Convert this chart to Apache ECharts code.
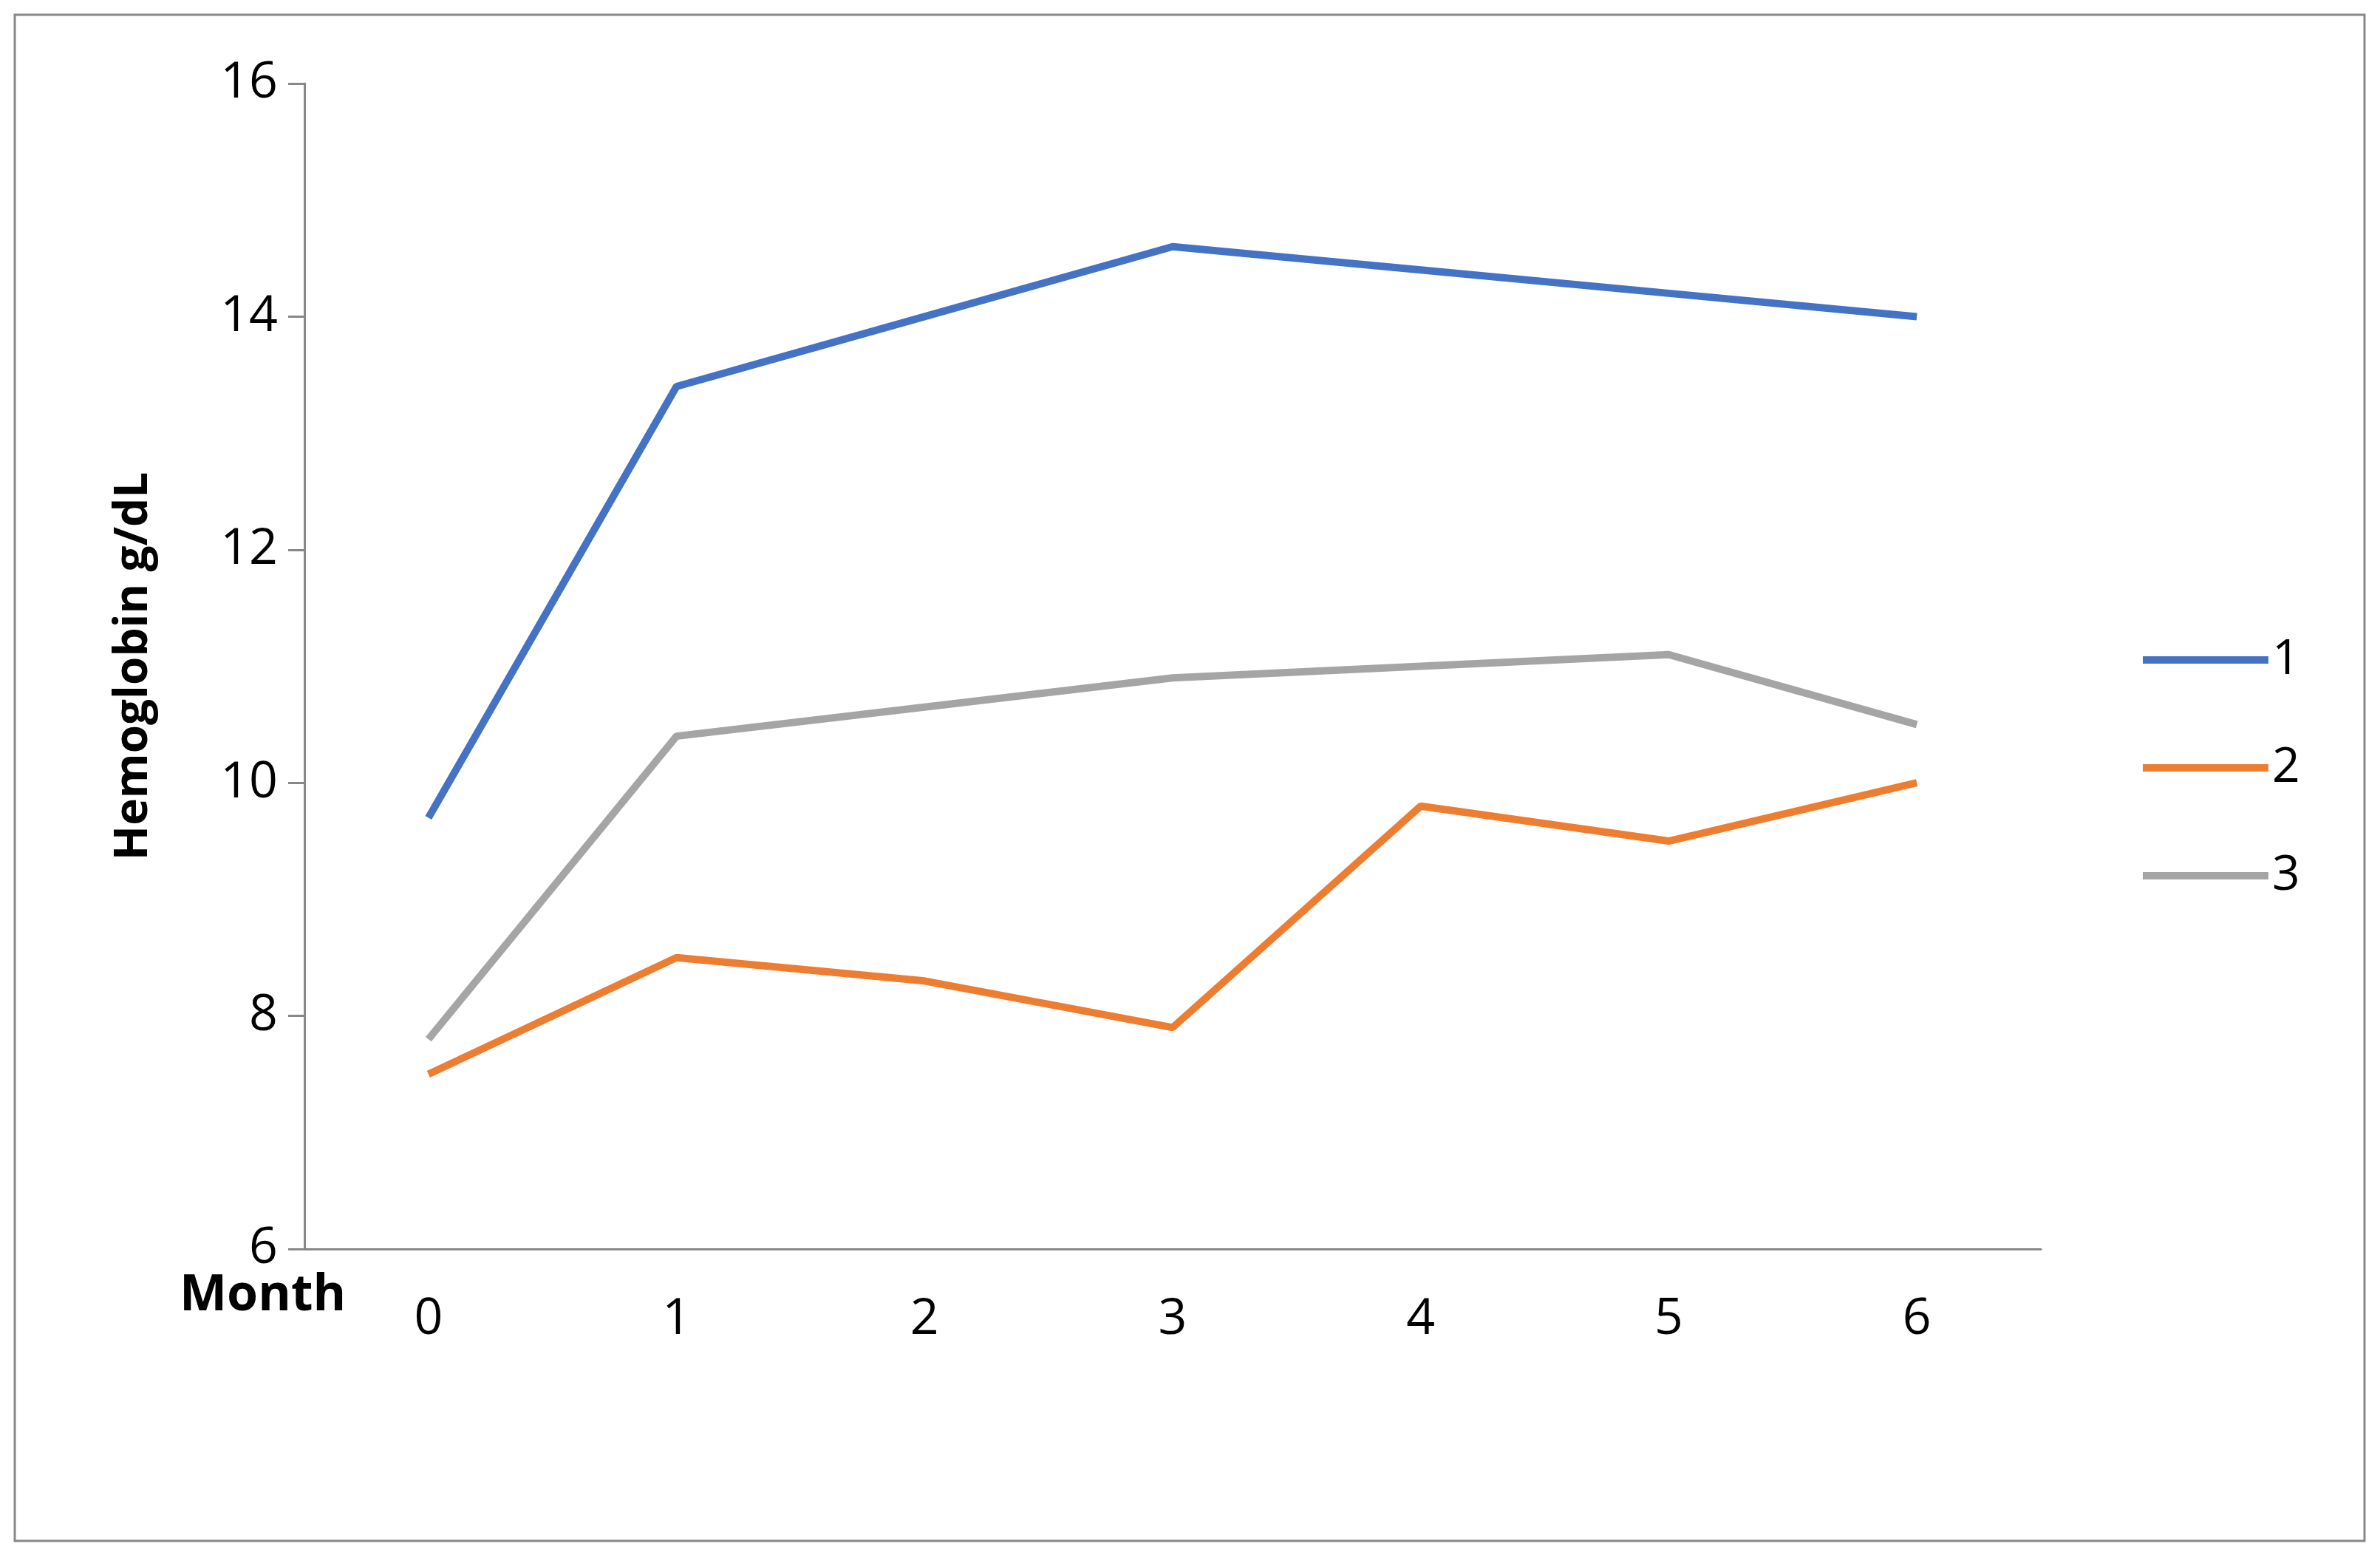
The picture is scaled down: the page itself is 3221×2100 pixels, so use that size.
<!DOCTYPE html>
<html><head><meta charset="utf-8">
<script src="https://cdn.jsdelivr.net/npm/echarts@6/dist/echarts.min.js"></script>
<style>html,body{margin:0;padding:0;background:#fff}#c{width:3221px;height:2100px}</style>
</head><body><div id="c"></div>
<script>
const categories = ['0','1','2','3','4','5','6'];
const series1 = [9.7, 13.4, 14.0, 14.6, 14.4, 14.2, 14.0];
const series2 = [7.5, 8.5, 8.3, 7.9, 9.8, 9.5, 10.0];
const series3 = [7.8, 10.4, 10.65, 10.9, 11.0, 11.1, 10.5];
const names = ['1','2','3'];
const colors = ['#4472C4','#ED7D31','#A5A5A5'];
const chart = echarts.init(document.getElementById('c'));
const font = '"Open Sans", sans-serif';
chart.setOption({
  animation:false,
  textStyle:{fontFamily:font},
  color:colors,
  grid:{left:412,top:113,width:2350,height:1577,containLabel:false},
  legend:{orient:'vertical',left:2895,top:855,itemGap:80,icon:'rect',itemWidth:170,itemHeight:10,
    textStyle:{fontSize:66,color:'#000',fontFamily:font},data:names},
  xAxis:{type:'category',data:categories,boundaryGap:true,
    axisLine:{lineStyle:{color:'#888',width:3}},
    axisTick:{show:true,length:0},
    axisLabel:{fontSize:68,color:'#000',margin:62}},
  yAxis:{type:'value',min:6,max:16,interval:2,
    name:'Hemoglobin g/dL',nameLocation:'middle',nameGap:200,
    nameTextStyle:{fontSize:62,fontWeight:'bold',color:'#000'},
    axisLine:{show:true,lineStyle:{color:'#888',width:3}},
    axisTick:{show:true,length:22,lineStyle:{color:'#888',width:3}},
    splitLine:{show:false},
    axisLabel:{fontSize:68,color:'#000',margin:36}},
  graphic:[
    {type:'rect',shape:{x:20,y:20,width:3180,height:2065},style:{fill:'none',stroke:'#888',lineWidth:3}},
    {type:'text',left:243,top:1720,style:{text:'Month',fontSize:68,fontWeight:'bold',fill:'#000',fontFamily:font}}
  ],
  series:[series1,series2,series3].map((d,i)=>({name:names[i],type:'line',data:d,symbol:'none',
    lineStyle:{width:10,color:colors[i]}}))
});
</script></body></html>
